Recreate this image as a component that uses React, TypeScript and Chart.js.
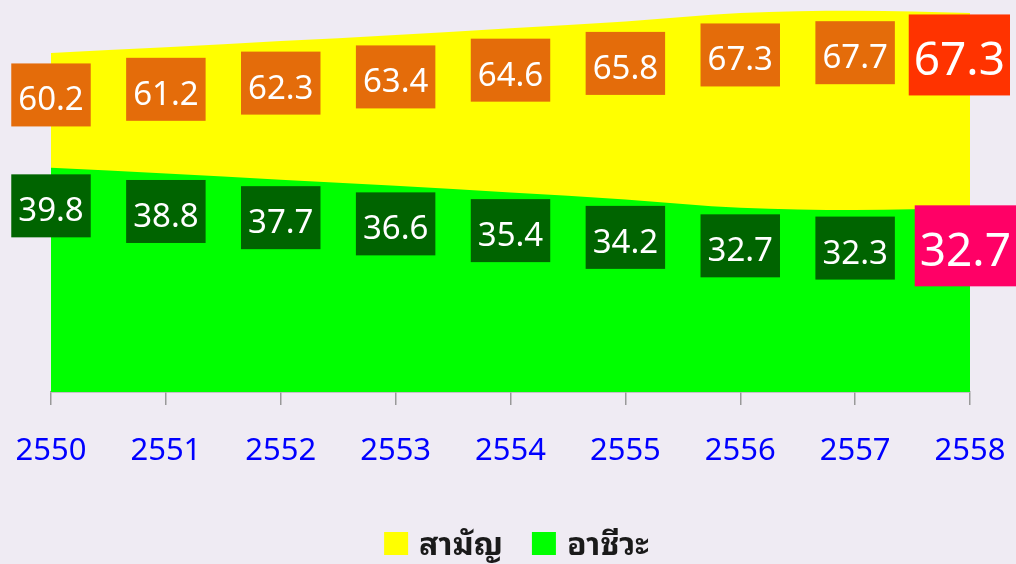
import React, { useEffect, useRef } from "react";
import { Chart, registerables } from "chart.js";

Chart.register(...registerables);

const years = ["2550", "2551", "2552", "2553", "2554", "2555", "2556", "2557", "2558"];
const generalValues = [60.2, 61.2, 62.3, 63.4, 64.6, 65.8, 67.3, 67.7, 67.3];
const vocationalValues = [39.8, 38.8, 37.7, 36.6, 35.4, 34.2, 32.7, 32.3, 32.7];
const seriesNames = ["สามัญ", "อาชีวะ"];

const BG = "#EFEBF3";
const DIGIT_FONT = '"Noto Sans", "DejaVu Sans", sans-serif';
const THAI_FONT = '"Noto Sans Thai Looped", "Loma", "Garuda", "Waree", "Noto Sans Thai", "Noto Sans", sans-serif';

const boxLabels = {
  id: "boxLabels",
  afterDatasetsDraw(chart: any) {
    const ctx = chart.ctx;
    ctx.save();
    chart.data.datasets.forEach((ds: any, di: number) => {
      const meta = chart.getDatasetMeta(di);
      const st = ds.labelStyle;
      meta.data.forEach((pt: any, i: number) => {
        const last = i === meta.data.length - 1;
        const fs = last ? 46 : 33;
        const h = last ? 81 : 63;
        const text = Number(ds.data[i]).toFixed(1);
        ctx.font = `${fs}px ${DIGIT_FONT}`;
        const w = ctx.measureText(text).width + (last ? 10 : 14);
        const cy = pt.y + st.offset;
        let left = pt.x - w / 2;
        if (left + w > chart.width - st.edge) left = chart.width - st.edge - w;
        if (left < 0) left = 0;
        const top = cy - h / 2;
        ctx.fillStyle = last ? st.lastBg : st.bg;
        ctx.fillRect(left, top, w, h);
        ctx.fillStyle = "#ffffff";
        ctx.textAlign = "center";
        ctx.textBaseline = "alphabetic";
        ctx.fillText(text, left + w / 2, cy + 0.357 * fs + 3.7);
      });
    });
    ctx.restore();
  },
};

const bottomLegend = {
  id: "bottomLegend",
  afterDraw(chart: any) {
    const ctx = chart.ctx;
    ctx.save();
    ctx.font = `bold 32px ${THAI_FONT}`;
    const box = 24;
    const gap = 11;
    const itemGap = 29;
    const items = chart.data.datasets.map((ds: any) => ({
      label: ds.label,
      color: ds.backgroundColor,
      tw: ctx.measureText(ds.label).width,
    }));
    const total =
      items.reduce((s: number, it: any) => s + box + gap + it.tw, 0) + itemGap * (items.length - 1);
    const center = (chart.chartArea.left + chart.chartArea.right) / 2 + 6;
    let x = center - total / 2;
    const boxTop = 532;
    const baseline = 555;
    items.forEach((it: any) => {
      ctx.fillStyle = it.color;
      ctx.fillRect(x, boxTop, box, 23);
      x += box + gap;
      ctx.fillStyle = "#1a1a1a";
      ctx.textAlign = "left";
      ctx.textBaseline = "alphabetic";
      ctx.fillText(it.label, x, baseline);
      x += it.tw + itemGap;
    });
    ctx.restore();
  },
};

export default function App() {
  const ref = useRef<HTMLCanvasElement | null>(null);

  useEffect(() => {
    document.body.style.margin = "0";
    document.body.style.background = BG;
    const canvas = ref.current;
    if (!canvas) return;
    const chart = new Chart(canvas, {
      type: "line",
      data: {
        labels: years,
        datasets: [
          {
            label: seriesNames[0],
            data: generalValues,
            backgroundColor: "#FFFF00",
            borderColor: "#FFFF00",
            fill: "origin",
            order: 1,
            labelStyle: { bg: "#E46C0A", lastBg: "#FF3300", offset: 42, edge: 6 },
          } as any,
          {
            label: seriesNames[1],
            data: vocationalValues,
            backgroundColor: "#00FF00",
            borderColor: "#00FF00",
            fill: "origin",
            order: 0,
            labelStyle: { bg: "#006400", lastBg: "#FF0066", offset: 38, edge: 0 },
          } as any,
        ],
      },
      options: {
        responsive: false,
        animation: false,
        layout: { padding: { left: 51, right: 46, top: 0, bottom: 96 } },
        elements: {
          point: { radius: 0, hoverRadius: 0 },
          line: { borderWidth: 0, cubicInterpolationMode: "monotone" },
        },
        scales: {
          x: {
            offset: false,
            grid: { drawOnChartArea: false, drawTicks: true, tickLength: 13, color: "#999999", lineWidth: 1.5 },
            border: { color: "#999999", width: 1.5 },
            ticks: {
              color: "#0000FF",
              font: { size: 31, family: DIGIT_FONT },
              padding: 28,
              maxRotation: 0,
              autoSkip: false,
            },
            afterFit: (scale: any) => {
              scale.paddingLeft = 0;
              scale.paddingRight = 0;
              scale.paddingTop = 0;
              scale.paddingBottom = 0;
              scale.height = 76;
            },
          },
          y: { display: false, min: 0, max: 69.6 },
        },
        plugins: {
          tooltip: { enabled: false },
          legend: { display: false },
        },
      } as any,
      plugins: [boxLabels, bottomLegend],
    });
    return () => chart.destroy();
  }, []);

  return (
    <div style={{ width: 1016, height: 564, background: BG }}>
      <canvas ref={ref} width={1016} height={564} style={{ display: "block" }} />
    </div>
  );
}
